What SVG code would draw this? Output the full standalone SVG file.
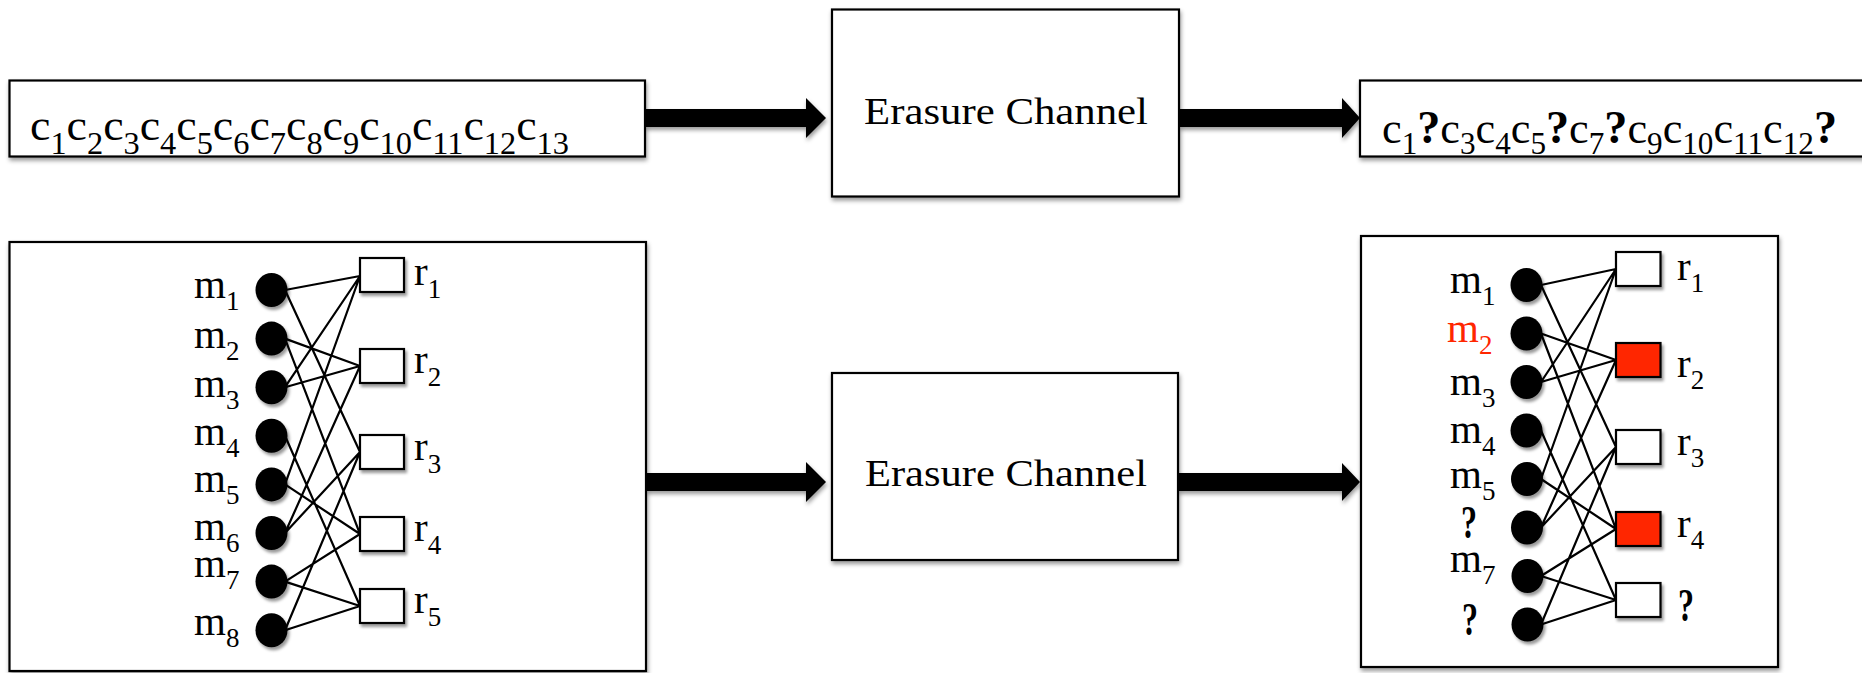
<svg xmlns="http://www.w3.org/2000/svg" width="1862" height="673" viewBox="0 0 1862 673">
<defs>
<filter id="sh" x="-10%" y="-10%" width="125%" height="140%">
<feDropShadow dx="1" dy="3" stdDeviation="2" flood-color="#000" flood-opacity="0.4"/>
</filter>
<filter id="shs" x="-30%" y="-30%" width="170%" height="180%">
<feDropShadow dx="2" dy="3" stdDeviation="1.8" flood-color="#000" flood-opacity="0.4"/>
</filter>
</defs>
<style>
.box{fill:#fff;stroke:#000;stroke-width:2.2;filter:url(#sh)}
.sq{fill:#fff;stroke:#000;stroke-width:2.2;filter:url(#shs)}
.sqr{fill:#ff2600;stroke:#000;stroke-width:2.2;filter:url(#shs)}
.dot{fill:#000;filter:url(#shs)}
.edge{stroke:#000;stroke-width:2.2;fill:none}
.arrow{fill:#000;filter:url(#sh)}
text{font-family:"Liberation Serif","Times New Roman",serif;fill:#000}
.seq{font-size:44px}
.sb{font-size:31px}
.q{font-weight:bold;font-size:46px}
.ch{font-size:38px}
.lab{font-size:41px}
.ls{font-size:27px}
.red{fill:#ff2600}
</style>

<g id="connectors">
<polygon class="arrow" points="645,109 806,109 806,98 826,118 806,138 806,127 645,127"/>
<polygon class="arrow" points="1179,109 1342,109 1342,98 1360,118 1342,138 1342,127 1179,127"/>
<polygon class="arrow" points="646,473 806,473 806,462 826,482 806,502 806,491 646,491"/>
<polygon class="arrow" points="1178,473 1342,473 1342,463 1360,482 1342,501 1342,491 1178,491"/>
</g>

<g id="codeword">
<rect class="box" x="9.5" y="80.5" width="635.5" height="76"/>
<text class="seq" x="30" y="140" textLength="539" lengthAdjust="spacingAndGlyphs">c<tspan class="sb" dy="14">1</tspan><tspan dy="-14">c</tspan><tspan class="sb" dy="14">2</tspan><tspan dy="-14">c</tspan><tspan class="sb" dy="14">3</tspan><tspan dy="-14">c</tspan><tspan class="sb" dy="14">4</tspan><tspan dy="-14">c</tspan><tspan class="sb" dy="14">5</tspan><tspan dy="-14">c</tspan><tspan class="sb" dy="14">6</tspan><tspan dy="-14">c</tspan><tspan class="sb" dy="14">7</tspan><tspan dy="-14">c</tspan><tspan class="sb" dy="14">8</tspan><tspan dy="-14">c</tspan><tspan class="sb" dy="14">9</tspan><tspan dy="-14">c</tspan><tspan class="sb" dy="14">10</tspan><tspan dy="-14">c</tspan><tspan class="sb" dy="14">11</tspan><tspan dy="-14">c</tspan><tspan class="sb" dy="14">12</tspan><tspan dy="-14">c</tspan><tspan class="sb" dy="14">13</tspan></text>
</g>

<g id="channel-top">
<rect class="box" x="832" y="9.5" width="347" height="187"/>
<text class="ch" x="864" y="124" textLength="284" lengthAdjust="spacingAndGlyphs">Erasure Channel</text>
</g>

<g id="received">
<rect class="box" x="1360" y="80.5" width="520" height="76"/>
<text class="seq" x="1382" y="143" textLength="455" lengthAdjust="spacingAndGlyphs">c<tspan class="sb" dy="11">1</tspan><tspan class="q" dy="-11">?</tspan><tspan>c</tspan><tspan class="sb" dy="11">3</tspan><tspan dy="-11">c</tspan><tspan class="sb" dy="11">4</tspan><tspan dy="-11">c</tspan><tspan class="sb" dy="11">5</tspan><tspan class="q" dy="-11">?</tspan><tspan>c</tspan><tspan class="sb" dy="11">7</tspan><tspan class="q" dy="-11">?</tspan><tspan>c</tspan><tspan class="sb" dy="11">9</tspan><tspan dy="-11">c</tspan><tspan class="sb" dy="11">10</tspan><tspan dy="-11">c</tspan><tspan class="sb" dy="11">11</tspan><tspan dy="-11">c</tspan><tspan class="sb" dy="11">12</tspan><tspan class="q" dy="-11">?</tspan></text>
</g>

<g id="graph-sent">
<rect class="box" x="9.5" y="242" width="636.5" height="429"/>
<g id="sent-edges">
<path class="edge" d="M285,290 L360,276 M285,290 L360,452 M285,338.6 L360,366 M285,338.6 L360,534 M285,387.2 L360,276 M285,387.2 L360,366 M285,435.8 L360,606 M285,484.4 L360,276 M285,484.4 L360,534 M285,533 L360,366 M285,533 L360,452 M285,581.6 L360,534 M285,581.6 L360,606 M285,630.2 L360,452 M285,630.2 L360,606"/>
</g>
<ellipse class="dot" cx="271.5" cy="290" rx="16" ry="17"/>
<ellipse class="dot" cx="271.5" cy="338.6" rx="16" ry="17"/>
<ellipse class="dot" cx="271.5" cy="387.2" rx="16" ry="17"/>
<ellipse class="dot" cx="271.5" cy="435.8" rx="16" ry="17"/>
<ellipse class="dot" cx="271.5" cy="484.4" rx="16" ry="17"/>
<ellipse class="dot" cx="271.5" cy="533" rx="16" ry="17"/>
<ellipse class="dot" cx="271.5" cy="581.6" rx="16" ry="17"/>
<ellipse class="dot" cx="271.5" cy="630.2" rx="16" ry="17"/>
<rect class="sq" x="360" y="258" width="44" height="34"/>
<rect class="sq" x="360" y="349" width="44" height="34"/>
<rect class="sq" x="360" y="435" width="44" height="34"/>
<rect class="sq" x="360" y="517" width="44" height="34"/>
<rect class="sq" x="360" y="589" width="44" height="34"/>
<text class="lab" x="194" y="298">m<tspan class="ls" dy="12">1</tspan></text>
<text class="lab" x="194" y="348">m<tspan class="ls" dy="12">2</tspan></text>
<text class="lab" x="194" y="397">m<tspan class="ls" dy="12">3</tspan></text>
<text class="lab" x="194" y="445">m<tspan class="ls" dy="12">4</tspan></text>
<text class="lab" x="194" y="492">m<tspan class="ls" dy="12">5</tspan></text>
<text class="lab" x="194" y="540">m<tspan class="ls" dy="12">6</tspan></text>
<text class="lab" x="194" y="577">m<tspan class="ls" dy="12">7</tspan></text>
<text class="lab" x="194" y="635">m<tspan class="ls" dy="12">8</tspan></text>
<text class="lab" x="414" y="285">r<tspan class="ls" dy="13">1</tspan></text>
<text class="lab" x="414" y="373">r<tspan class="ls" dy="13">2</tspan></text>
<text class="lab" x="414" y="460">r<tspan class="ls" dy="13">3</tspan></text>
<text class="lab" x="414" y="541">r<tspan class="ls" dy="13">4</tspan></text>
<text class="lab" x="414" y="613">r<tspan class="ls" dy="13">5</tspan></text>
</g>

<g id="channel-bottom">
<rect class="box" x="832" y="373" width="346" height="187"/>
<text class="ch" x="865" y="486" textLength="282" lengthAdjust="spacingAndGlyphs">Erasure Channel</text>
</g>

<g id="graph-received">
<rect class="box" x="1361" y="236" width="417" height="431"/>
<g id="received-edges">
<path class="edge" d="M1541,285 L1616,269 M1541,285 L1616,447 M1541,333.5 L1616,360 M1541,333.5 L1616,529 M1541,382 L1616,269 M1541,382 L1616,360 M1541,430.5 L1616,600 M1541,479 L1616,269 M1541,479 L1616,529 M1541,527.5 L1616,360 M1541,527.5 L1616,447 M1541,576 L1616,529 M1541,576 L1616,600 M1541,624.5 L1616,447 M1541,624.5 L1616,600"/>
</g>
<ellipse class="dot" cx="1526.5" cy="285" rx="16" ry="17"/>
<ellipse class="dot" cx="1526.5" cy="333.5" rx="16" ry="17"/>
<ellipse class="dot" cx="1526.5" cy="382" rx="16" ry="17"/>
<ellipse class="dot" cx="1526.5" cy="430.5" rx="16" ry="17"/>
<ellipse class="dot" cx="1527" cy="479" rx="16" ry="17"/>
<ellipse class="dot" cx="1527" cy="527.5" rx="16" ry="17"/>
<ellipse class="dot" cx="1527.5" cy="576" rx="16" ry="17"/>
<ellipse class="dot" cx="1527.5" cy="624.5" rx="16" ry="17"/>
<rect class="sq" x="1616" y="252" width="44.5" height="34"/>
<rect class="sqr" x="1616" y="343" width="44.5" height="34"/>
<rect class="sq" x="1616" y="430" width="44.5" height="34"/>
<rect class="sqr" x="1616" y="512" width="44.5" height="34"/>
<rect class="sq" x="1616" y="583" width="44.5" height="34"/>
<text class="lab" x="1450" y="293">m<tspan class="ls" dy="12">1</tspan></text>
<text class="lab red" x="1447" y="342">m<tspan class="ls" dy="12">2</tspan></text>
<text class="lab" x="1450" y="395">m<tspan class="ls" dy="12">3</tspan></text>
<text class="lab" x="1450" y="443">m<tspan class="ls" dy="12">4</tspan></text>
<text class="lab" x="1450" y="488">m<tspan class="ls" dy="12">5</tspan></text>
<text class="q" x="1461" y="538" textLength="16" lengthAdjust="spacingAndGlyphs">?</text>
<text class="lab" x="1450" y="572">m<tspan class="ls" dy="12">7</tspan></text>
<text class="q" x="1462" y="635" textLength="16" lengthAdjust="spacingAndGlyphs">?</text>
<text class="lab" x="1677" y="280">r<tspan class="ls" dy="12">1</tspan></text>
<text class="lab" x="1677" y="377">r<tspan class="ls" dy="12">2</tspan></text>
<text class="lab" x="1677" y="455">r<tspan class="ls" dy="12">3</tspan></text>
<text class="lab" x="1677" y="537">r<tspan class="ls" dy="12">4</tspan></text>
<text class="q" x="1678" y="621" textLength="16" lengthAdjust="spacingAndGlyphs">?</text>
</g>
</svg>
